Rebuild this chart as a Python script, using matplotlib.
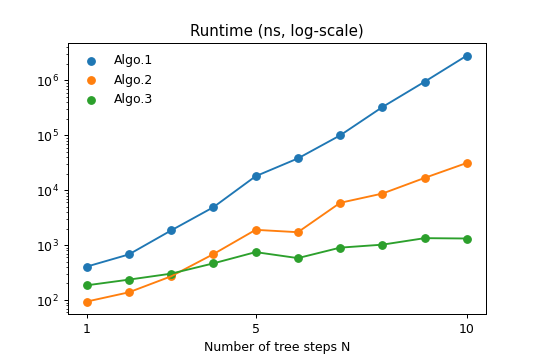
import matplotlib
matplotlib.use("Agg")
import matplotlib.pyplot as plt

# passos da árvore e tempos de execução (ns)
n_passos = [1, 2, 3, 4, 5, 6, 7, 8, 9, 10]
algo1 = [405, 676, 1850, 4900, 18000, 38000, 100000, 328000, 950000, 2850000]
algo2 = [93.5, 138, 270, 685, 1900, 1720, 5900, 8700, 16800, 31500]
algo3 = [185, 235, 302, 465, 746, 580, 900, 1020, 1340, 1320]
rotulos = ["Algo.1", "Algo.2", "Algo.3"]
xticks = [1, 5, 10]

fig = plt.figure(figsize=(6, 4), dpi=90)
ax = fig.add_axes([0.125, 0.128, 0.775, 0.752])

for serie, rotulo in zip([algo1, algo2, algo3], rotulos):
    linha, = ax.plot(n_passos, serie)
    ax.scatter(n_passos, serie, color=linha.get_color(), label=rotulo)

ax.set_yscale("log")
ax.set_xticks(xticks)
ax.set_xlabel("Number of tree steps N")
ax.set_title("Runtime (ns, log-scale)")
ax.legend(frameon=False)

fig.savefig("out.png", dpi=90)
